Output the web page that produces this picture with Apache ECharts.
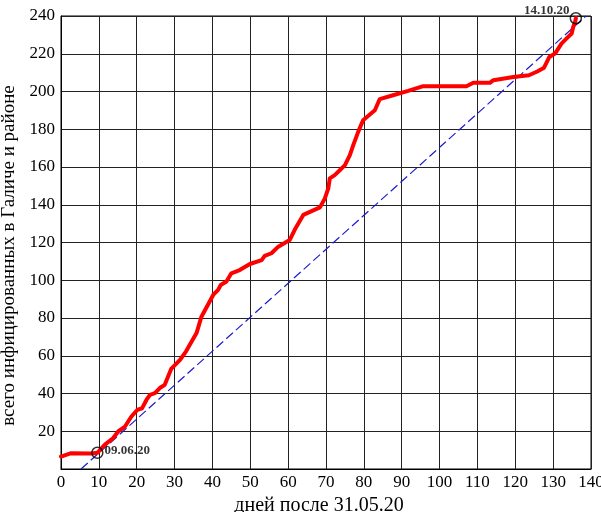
<!DOCTYPE html>
<html><head><meta charset="utf-8">
<script src="https://cdn.jsdelivr.net/npm/echarts@6/dist/echarts.min.js"></script>
<style>html,body{margin:0;padding:0;background:#fff}#c{width:601px;height:512px}</style>
</head><body><div id="c"></div>
<script>
// days after 31.05.20
const days = [0, 2.5, 8.1, 9.6, 11.6, 13.8, 15.1, 16.9, 18.6, 20.2, 21.4, 22.6, 23.5, 24.8, 26.1, 27.4, 29.1, 31.5, 33.0, 35.8, 37.1, 40.2, 41.5, 42.2, 43.7, 45.0, 47.2, 49.9, 53.0, 53.8, 55.6, 57.4, 60.4, 61.8, 64.0, 68.4, 69.7, 70.6, 71.0, 72.3, 73.7, 75.0, 76.3, 77.2, 78.5, 79.8, 82.9, 84.2, 87.7, 91.7, 95.7, 107.1, 108.9, 113.3, 114.2, 119.5, 123.6, 125.8, 127.6, 129.0, 130.5, 132.2, 133.5, 134.9, 135.3, 135.8, 136.0];
// total infected
const infected = [6.6, 8.3, 8.2, 8.6, 12.9, 16.4, 19.9, 22.5, 27.8, 31.4, 32.1, 36.7, 39.3, 40.2, 42.9, 44.6, 53.0, 58.0, 62.2, 72.0, 80.7, 92.2, 94.9, 97.5, 99.3, 103.7, 105.4, 108.6, 110.7, 112.9, 114.3, 117.8, 121.3, 127.0, 134.6, 138.6, 143.4, 148.7, 154.0, 155.7, 158.4, 161.0, 166.3, 171.6, 178.6, 184.8, 190.1, 196.0, 198.0, 200.3, 202.8, 202.8, 204.6, 204.6, 206.0, 207.7, 208.6, 210.6, 212.6, 218.3, 220.1, 225.4, 228.0, 230.7, 234.2, 236.8, 238.8];
// trend line endpoints
const trendX = [5.3, 138.7];
const trendY = [0, 240];
// marked dates
const markDays = [9.6, 136.0];
const markValues = [8.6, 238.8];
const markLabels = ['09.06.20', '14.10.20'];
const xTicks = {min: 0, max: 140, interval: 10};
const yTicks = {min: 0, max: 240, interval: 20};

const font = "'Liberation Serif', 'Times New Roman', serif";
const chart = echarts.init(document.getElementById('c'), null, {renderer: 'canvas'});
chart.setOption({
  animation: false,
  backgroundColor: '#fff',
  grid: {left: 61, right: 10, top: 16, bottom: 43, show: true, borderColor: '#000', borderWidth: 1,
    containLabel: false, outerBoundsMode: 'none'},
  xAxis: {
    type: 'value', min: xTicks.min, max: xTicks.max, interval: xTicks.interval,
    name: 'дней после 31.05.20', nameLocation: 'middle', nameGap: 19,
    nameTextStyle: {fontFamily: font, fontSize: 20, color: '#000', padding: [0, 14, 0, 0]},
    axisLine: {show: true, lineStyle: {color: '#000', width: 1}},
    axisTick: {show: false},
    axisLabel: {fontFamily: font, fontSize: 17, color: '#000', margin: 5},
    splitLine: {show: true, lineStyle: {color: '#222', width: 1}}
  },
  yAxis: {
    type: 'value', min: yTicks.min, max: yTicks.max, interval: yTicks.interval,
    name: 'всего инфицированных в Галиче и районе', nameLocation: 'middle', nameGap: 31,
    nameTextStyle: {fontFamily: font, fontSize: 19, color: '#000', padding: [0, 26, 0, 0]},
    axisLine: {show: true, lineStyle: {color: '#000', width: 1}},
    axisTick: {show: false},
    axisLabel: {fontFamily: font, fontSize: 17, color: '#000', margin: 6, showMinLabel: false},
    splitLine: {show: true, lineStyle: {color: '#222', width: 1}}
  },
  series: [
    {
      type: 'line', data: trendX.map((x, i) => [x, trendY[i]]), symbol: 'none',
      lineStyle: {color: '#1c1cd0', width: 1.2, type: [9, 4]}, z: 2
    },
    {
      type: 'line', data: days.map((x, i) => [x, infected[i]]), symbol: 'none',
      lineStyle: {color: '#ff0000', width: 4, join: 'round', cap: 'round'}, z: 3
    },
    {
      type: 'scatter', z: 4,
      data: markDays.map((x, i) => ({value: [x, markValues[i]], name: markLabels[i],
        label: i === 0 ? {position: 'right', distance: 1, offset: [0, -2]} : {position: 'left', distance: 0, offset: [0, -8]}})),
      symbol: 'circle', symbolSize: 11,
      itemStyle: {color: 'rgba(0,0,0,0)', borderColor: '#000', borderWidth: 1.5},
      label: {show: true, formatter: p => p.name, fontFamily: font, fontSize: 13, fontWeight: 'bold', color: '#000'}
    }
  ]
});
</script></body></html>
